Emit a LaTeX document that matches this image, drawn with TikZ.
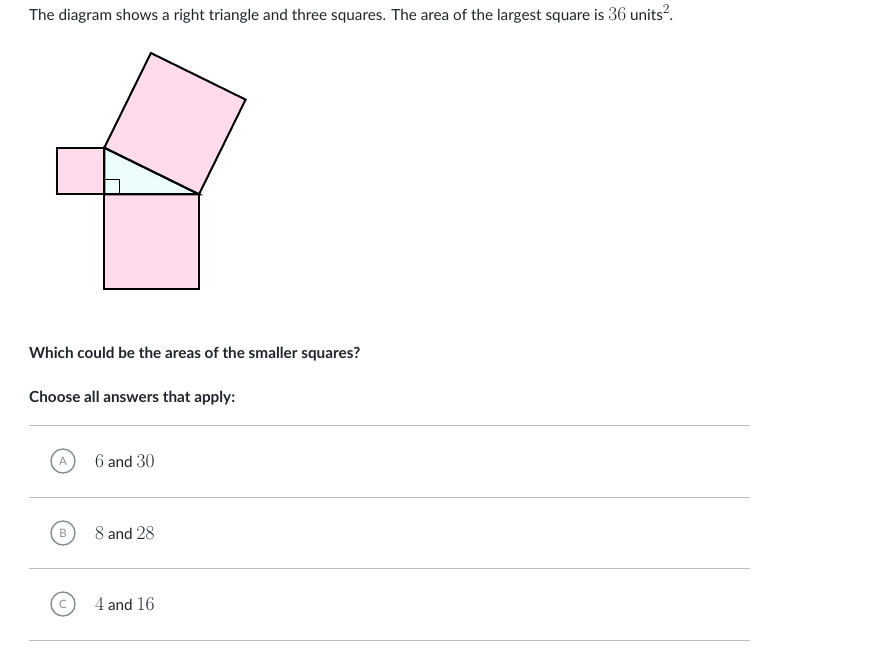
\documentclass[tikz,border=0pt]{standalone}
\usepackage[no-math]{fontspec}
\setmainfont{Lato}
\newfontfamily\numfont{Latin Modern Roman}
\usetikzlibrary{calc}
\definecolor{txt}{HTML}{21242C}
\definecolor{pinkfill}{HTML}{FFDBEC}
\definecolor{trifill}{HTML}{EDFDFD}
\definecolor{rule}{HTML}{BABEC2}
\definecolor{optgray}{HTML}{888D93}
\tikzset{
  body/.style={anchor=base west, inner sep=0pt, text=txt, font=\fontsize{15.3}{18}\selectfont},
  bodyb/.style={body, font=\fontsize{15.3}{18}\selectfont\bfseries},
  sq/.style={draw=black, line width=2pt, fill=pinkfill, line join=miter},
  hr/.style={draw=rule, line width=1pt},
  optcirc/.style={circle, draw=optgray, line width=1.4pt, minimum size=24pt, inner sep=0pt, text=optgray, font=\fontsize{11.5}{13}\selectfont},
}
\newcommand{\mnum}[1]{{\numfont\fontsize{19.5}{22}\selectfont #1}}
\newcommand{\msup}[1]{\raisebox{7pt}{\numfont\fontsize{13.5}{15}\selectfont #1}}
\begin{document}
\begin{tikzpicture}[x=1pt,y=-1pt]
\useasboundingbox (0,0) rectangle (877,657);
% text
\node[body] (t1) at (29,20) {The diagram shows a right triangle and three squares. The area of the largest square is \mnum{36} units\msup{2}.};
% geometry
\coordinate (C) at (104.3,194.3);
\coordinate (B) at (104.3,147.7);
\coordinate (A) at (199,194.3);
\fill[trifill] (C) -- (B) -- (A) -- cycle;
\draw[sq] (57.3,147.7) rectangle (C);
\draw[sq] (C) rectangle (199,289);
\draw[sq] (B) -- ($(B)+(46.6,-94.7)$) -- ($(A)+(46.6,-94.7)$) -- (A) -- cycle;
\draw[line width=0.8pt] (104.3,179.6) -- (119,179.6) -- (119,194.3);
\draw[black, line width=2pt, line join=miter] (C) -- (B) -- (A) -- cycle;
% questions
\node[bodyb] (q1) at (29,358) {Which could be the areas of the smaller squares?};
\node[bodyb] (q2) at (29,402) {Choose all answers that apply:};
% rules
\draw[hr] (29,425) -- (750,425);
\draw[hr] (29,497) -- (750,497);
\draw[hr] (29,568) -- (750,568);
\draw[hr] (29,640) -- (750,640);
% options
\node[optcirc] (ca) at (63,461) {A};
\node[optcirc] (cb) at (63,533) {B};
\node[optcirc] (cc) at (63,604) {C};
\node[body] (oa) at (95,467) {\mnum{6} and \mnum{30}};
\node[body] (ob) at (95,539) {\mnum{8} and \mnum{28}};
\node[body] (oc) at (95,610) {\mnum{4} and \mnum{16}};
\end{tikzpicture}
\end{document}
